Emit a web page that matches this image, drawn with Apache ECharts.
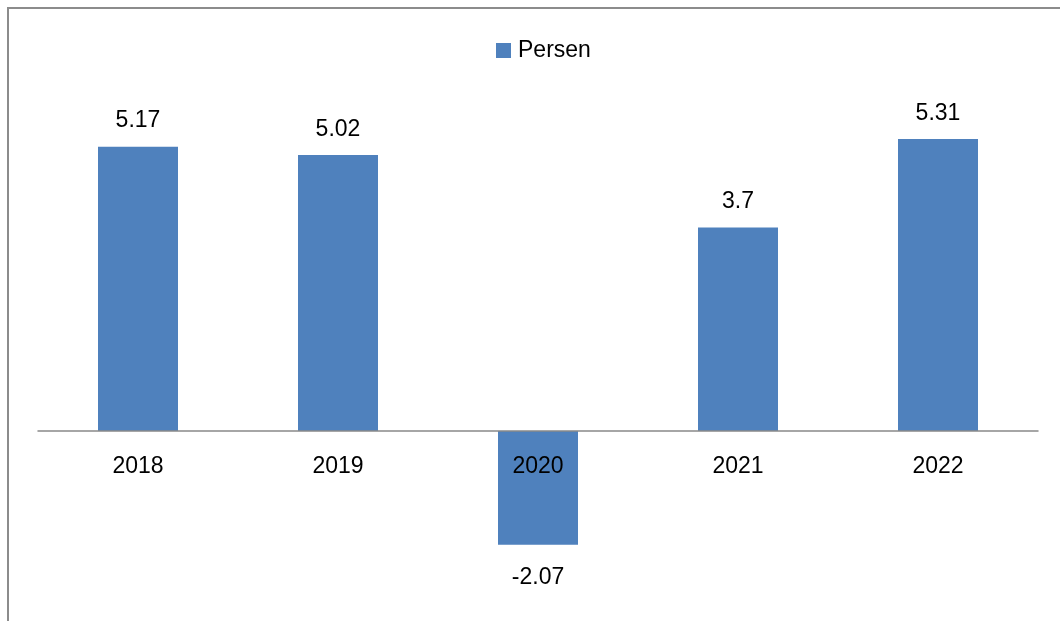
<!DOCTYPE html>
<html>
<head>
<meta charset="utf-8">
<script src="https://cdn.jsdelivr.net/npm/echarts@6/dist/echarts.min.js"></script>
<style>
html,body{margin:0;padding:0;background:#fff;}
#c{width:1060px;height:621px;}
</style>
</head>
<body>
<div id="c"></div>
<script>
var categories = ['2018', '2019', '2020', '2021', '2022'];
var seriesName = 'Persen';
var values = [5.17, 5.02, -2.07, 3.7, 5.31];

var FONT = '"Liberation Sans", Arial, sans-serif';
var chart = echarts.init(document.getElementById('c'));
chart.setOption({
  animation: false,
  backgroundColor: '#ffffff',
  graphic: [{
    type: 'polyline',
    shape: { points: [[8, 621], [8, 8], [1060, 8]] },
    style: { stroke: '#8c8c8c', lineWidth: 2, fill: null },
    z: 10
  }],
  legend: {
    left: 491, top: 34,
    itemWidth: 15, itemHeight: 15,
    data: [seriesName],
    icon: 'rect',
    textStyle: { fontFamily: FONT, fontSize: 23, color: '#000', padding: [0, 0, 0, 2] }
  },
  grid: { left: 38, right: 22, top: 101, height: 330, containLabel: false, outerBoundsMode: 'none' },
  xAxis: {
    type: 'category',
    data: categories,
    z: 5,
    axisLine: { lineStyle: { color: '#898989', width: 1.5 } },
    axisTick: { show: false },
    axisLabel: { margin: 24, fontFamily: FONT, fontSize: 23, color: '#000' }
  },
  yAxis: {
    type: 'value', min: 0, max: 6, interval: 1,
    show: false,
    splitLine: { show: false }
  },
  series: [{
    name: seriesName,
    type: 'bar',
    clip: false,
    barWidth: '40%',
    itemStyle: { color: '#4f81bd' },
    data: values.map(function (v) {
      return {
        value: v,
        label: v < 0 ? { position: 'bottom', distance: 21 } : { position: 'top', distance: 14 }
      };
    }),
    label: { show: true, fontFamily: FONT, fontSize: 23, color: '#000' }
  }]
});
</script>
</body>
</html>
